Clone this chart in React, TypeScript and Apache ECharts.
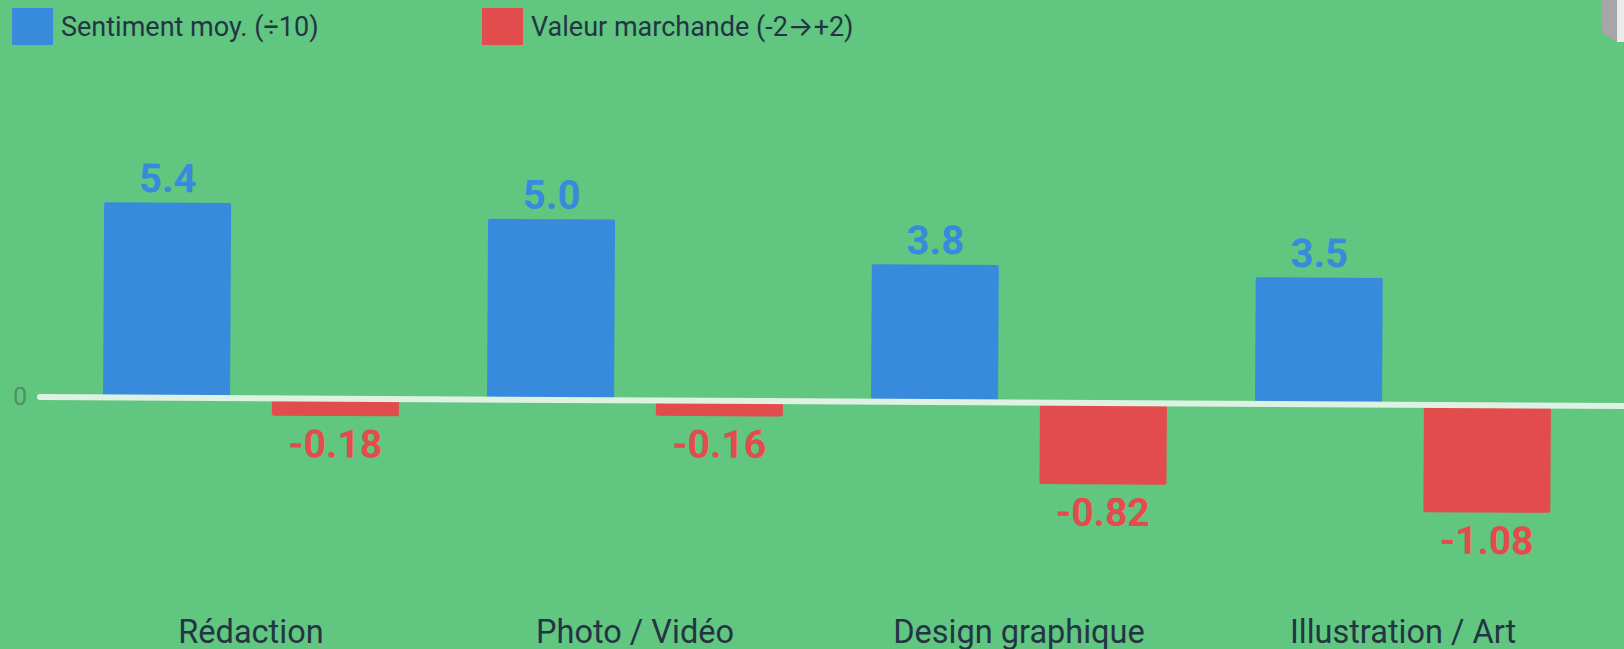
import React, { useEffect, useRef } from "react";
import * as echarts from "echarts";

// ---- data ----
const categories = ["Rédaction", "Photo / Vidéo", "Design graphique", "Illustration / Art"];
const seriesNames = ["Sentiment moy. (÷10)", "Valeur marchande (-2→+2)"];
const sentiment = [5.4, 5.0, 3.8, 3.5];
const marketValue = [-0.18, -0.16, -0.82, -1.08];

const BG = "#60c680";
const BLUE = "#388adc";
const RED = "#e34c4c";
const TEXT = "#243445";
const FONT = "Roboto, 'Noto Sans', sans-serif";

const legendText = {
  fontSize: 27,
  color: TEXT,
  fontFamily: FONT,
  padding: [0, 0, 0, 3],
  rich: {
    arr: { fontSize: 27, color: TEXT, fontFamily: "Inter, 'DejaVu Sans', sans-serif" },
  },
};
const legendFormatter = (name: string) => name.replace("→", "{arr|→}");

export default function App() {
  const baseRef = useRef<HTMLDivElement>(null);
  const plotRef = useRef<HTMLDivElement>(null);

  useEffect(() => {
    document.body.style.margin = "0";
    const base = echarts.init(baseRef.current!, undefined, { renderer: "svg" });
    const plot = echarts.init(plotRef.current!, undefined, { renderer: "svg" });

    base.setOption({
      animation: false,
      backgroundColor: BG,
      textStyle: { fontFamily: FONT },
      legend: [
        {
          left: 12,
          top: 8,
          padding: 0,
          itemWidth: 41,
          itemHeight: 37,
          icon: "rect",
          data: [seriesNames[0]],
          formatter: legendFormatter,
          textStyle: legendText,
        },
        {
          left: 482,
          top: 8,
          padding: 0,
          itemWidth: 41,
          itemHeight: 37,
          icon: "rect",
          data: [seriesNames[1]],
          formatter: legendFormatter,
          textStyle: legendText,
        },
      ],
      grid: { left: 59, right: 29, top: 108, bottom: 49 },
      xAxis: {
        type: "category",
        data: categories,
        axisLine: { show: false },
        axisTick: { show: false },
        axisLabel: { fontSize: 32.5, color: TEXT, margin: 15, fontFamily: FONT },
      },
      yAxis: { type: "value", show: false },
      series: [
        { type: "bar", name: seriesNames[0], data: [], itemStyle: { color: BLUE } },
        { type: "bar", name: seriesNames[1], data: [], itemStyle: { color: RED } },
      ],
      graphic: [
        {
          type: "polygon",
          shape: { points: [[1601, 0], [1617, 0], [1617, 42], [1602, 33]] },
          style: { fill: "#a6a6a6" },
          silent: true,
        },
        {
          type: "polygon",
          shape: { points: [[1617, 0], [1624, 0], [1624, 42], [1617, 42]] },
          style: { fill: "#ebebeb" },
          silent: true,
        },
      ],
    });

    plot.setOption({
      animation: false,
      backgroundColor: "transparent",
      textStyle: { fontFamily: FONT },
      grid: [
        { left: 59, right: 29, top: 108.3, height: 504 },
        { left: 40, right: 0, top: 108.3, height: 504 },
      ],
      xAxis: [
        {
          type: "category",
          gridIndex: 0,
          data: categories,
          axisLine: { show: false },
          axisTick: { show: false },
          axisLabel: { show: false },
        },
        {
          type: "value",
          gridIndex: 1,
          min: 0,
          max: 1,
          z: 10,
          axisLine: { show: true, onZero: true, lineStyle: { color: "#def1e3", width: 6 } },
          axisTick: { show: false },
          axisLabel: { show: false },
          splitLine: { show: false },
        },
      ],
      yAxis: [
        {
          type: "value",
          gridIndex: 0,
          min: -6,
          max: 8,
          interval: 2,
          axisLine: { show: false },
          axisTick: { show: false },
          splitLine: { show: false },
          axisLabel: {
            margin: 32,
            fontSize: 25,
            color: "#4f9163",
            fontFamily: FONT,
            formatter: (v: number) => (v === 0 ? "0" : ""),
          },
        },
        {
          type: "value",
          gridIndex: 0,
          min: -2.16,
          max: 2.88,
          axisLine: { show: false },
          axisTick: { show: false },
          splitLine: { show: false },
          axisLabel: { show: false },
        },
        {
          type: "value",
          gridIndex: 1,
          min: -6,
          max: 8,
          show: true,
          axisLine: { show: false },
          axisTick: { show: false },
          splitLine: { show: false },
          axisLabel: { show: false },
        },
      ],
      series: [
        {
          type: "bar",
          name: seriesNames[0],
          xAxisIndex: 0,
          yAxisIndex: 0,
          data: sentiment,
          barWidth: 127,
          barGap: "33%",
          itemStyle: { color: BLUE, borderRadius: 2 },
          label: {
            show: true,
            position: "top",
            distance: 4,
            fontSize: 40,
            fontWeight: "bold",
            color: BLUE,
            fontFamily: FONT,
            formatter: (p: any) => Number(p.value).toFixed(1),
          },
        },
        {
          type: "bar",
          name: seriesNames[1],
          xAxisIndex: 0,
          yAxisIndex: 1,
          data: marketValue,
          barWidth: 127,
          barGap: "33%",
          itemStyle: { color: RED, borderRadius: 2 },
          label: {
            show: true,
            position: "bottom",
            distance: 9,
            fontSize: 39,
            fontWeight: "bold",
            color: RED,
            fontFamily: FONT,
            formatter: (p: any) => Number(p.value).toFixed(2),
          },
        },
      ],
    });

    return () => {
      base.dispose();
      plot.dispose();
    };
  }, []);

  return (
    <div
      style={{
        position: "fixed",
        left: 0,
        top: 0,
        width: 1624,
        height: 649,
        overflow: "hidden",
        background: BG,
      }}
    >
      <div ref={baseRef} style={{ position: "absolute", left: 0, top: 0, width: 1624, height: 649 }} />
      <div
        ref={plotRef}
        style={{
          position: "absolute",
          left: 0,
          top: 0,
          width: 1624,
          height: 649,
          transform: "rotate(0.325deg)",
          transformOrigin: "40px 396.3px",
        }}
      />
    </div>
  );
}
